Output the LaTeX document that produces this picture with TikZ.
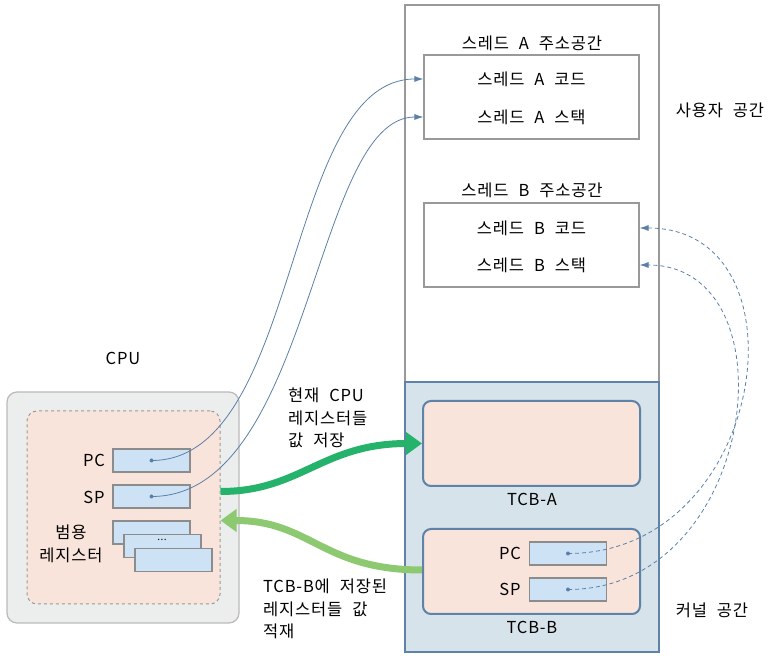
\documentclass[tikz,border=0pt]{standalone}
\usepackage{fontspec}
\setmainfont{Noto Sans CJK KR}[LetterSpace=5, WordSpace=2.2]
\usetikzlibrary{arrows.meta}
\definecolor{peach}{HTML}{F9E4DB}
\definecolor{regblue}{HTML}{CDE3F5}
\definecolor{kernelfill}{HTML}{D6E3EA}
\definecolor{tcbline}{HTML}{5E82A8}
\definecolor{linkblue}{HTML}{5B7FA6}
\definecolor{cpugray}{HTML}{ECEDED}
\definecolor{savegreen}{HTML}{25B36B}
\definecolor{loadgreen}{HTML}{8DC971}
\tikzset{
  spacebox/.style={draw=black!40, line width=1.2pt},
  kernelbox/.style={fill=kernelfill, draw=tcbline, line width=2.2pt},
  addrbox/.style={draw=black!40, line width=1.2pt, minimum width=215pt, minimum height=84pt, inner sep=0pt},
  tcbbox/.style={fill=peach, draw=tcbline, line width=2pt, rounded corners=8pt, minimum width=217pt, minimum height=85pt, inner sep=0pt},
  regbox/.style={fill=regblue, draw=black!45, line width=1.2pt, minimum width=77pt, minimum height=23pt, inner sep=0pt},
  txt/.style={font=\fontsize{16.5}{22.5}\selectfont, inner sep=0pt},
  regdot/.style={circle, fill=linkblue, inner sep=0pt, minimum size=4pt},
  link/.style={draw=linkblue, line width=0.8pt, -{Latex[length=9pt,width=6pt]}},
  dashlink/.style={link, dash pattern=on 4pt off 3pt},
  saveflow/.style={draw=savegreen, line width=7pt, -{Triangle[length=16pt,width=22pt]}},
  loadflow/.style={draw=loadgreen, line width=7pt, -{Triangle[length=16pt,width=22pt]}},
}

\begin{document}
\begin{tikzpicture}[x=1pt, y=1pt]
\useasboundingbox (0,0) rectangle (772,659);
\draw[spacebox] (405,277) rectangle (659,654);
\draw[kernelbox] (405,7) rectangle (659,277);
\node[txt] (userlbl) at (720,549) {사용자 공간};
\node[txt] (kernellbl) at (712,49) {커널 공간};

\node[txt] (addrA) at (532,616) {스레드 A 주소공간};
\node[addrbox] (boxA) at (531.5,562) {};
\node[txt] (codeA) at (531.5,580) {스레드 A 코드};
\node[txt] (stackA) at (531.5,542) {스레드 A 스택};
\node[txt] (addrB) at (532,469) {스레드 B 주소공간};
\node[addrbox] (boxB) at (531.5,414) {};
\node[txt] (codeB) at (531.5,431) {스레드 B 코드};
\node[txt] (stackB) at (531.5,394) {스레드 B 스택};

\node[tcbbox] (tcbA) at (531.5,215.5) {};
\node[txt] (tcbAlbl) at (532,160) {TCB-A};
\node[tcbbox] (tcbB) at (531.5,87.5) {};
\node[txt] (tcbBlbl) at (532,32) {TCB-B};
\node[regbox] (pcB) at (568,105.5) {};
\node[regbox] (spB) at (568,69.5) {};
\node[txt] (pcBlbl) at (510,106) {PC};
\node[txt] (spBlbl) at (510,70) {SP};
\node[regdot] (pcBdot) at (pcB.center) {};
\node[regdot] (spBdot) at (spB.center) {};

\node[txt] (cpulbl) at (123,301) {CPU};
\node[fill=cpugray, draw=black!27, line width=1.2pt, rounded corners=10pt, minimum width=232pt, minimum height=231pt] (cpu) at (123,151.5) {};
\node[fill=peach, draw=black!40, dashed, line width=1pt, rounded corners=10pt, minimum width=193pt, minimum height=193pt] (cpuin) at (123.5,151.5) {};
\node[regbox] (pcC) at (151.5,198.5) {};
\node[regbox] (spC) at (151.5,162.5) {};
\node[txt] (pcClbl) at (94,199) {PC};
\node[txt] (spClbl) at (94,162) {SP};
\node[regdot] (pcCdot) at (pcC.center) {};
\node[regdot] (spCdot) at (spC.center) {};
\node[regbox] (gp1) at (151.5,126.5) {};
\node[regbox] (gp2) at (162.5,113) {};
\node[regbox] (gp3) at (173.5,99) {};
\node[font=\normalsize, inner sep=0pt] (gpdots) at (162,119) {...};
\node[txt, align=center] (gplbl) at (71,115) {범용\\레지스터};

\node[txt, align=left, anchor=west] (savenote) at (288,241) {현재 CPU\\레지스터들\\값 저장};
\node[txt, align=left, anchor=west] (loadnote) at (263,50) {TCB-B에 저장된\\레지스터들 값\\적재};

\draw[link] (pcCdot.center) .. controls +(150,0) and +(-140,0) .. (boxA.west |- codeA);
\draw[link] (spCdot.center) .. controls +(160,0) and +(-110,0) .. (boxA.west |- stackA);
\draw[dashlink] (pcBdot.center) .. controls +(200,0) and +(172,0) .. (boxB.east |- codeB);
\draw[dashlink] (spBdot.center) .. controls +(190,0) and +(156,0) .. (boxB.east |- stackB);

\draw[saveflow] ([yshift=5pt]cpuin.east |- spC) .. controls +(80,0) and +(-100,0) .. (tcbA.west);
\draw[loadflow] ([yshift=1.5pt]tcbB.west) .. controls +(-100,0) and +(90,0) .. ([yshift=12pt]cpuin.east |- gp1);
\end{tikzpicture}
\end{document}
